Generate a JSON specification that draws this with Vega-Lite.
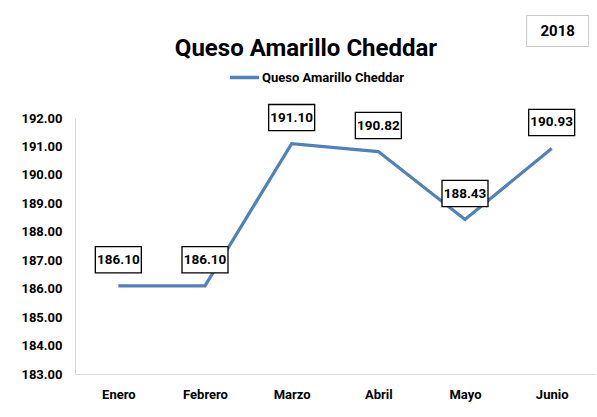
{
  "$schema": "https://vega.github.io/schema/vega-lite/v6.json",
  "width": 520,
  "height": 256,
  "autosize": "none",
  "padding": {"left": 75, "top": 118, "right": 2, "bottom": 43},
  "background": "white",
  "config": {
    "view": {"stroke": null},
    "font": "Roboto"
  },
  "title": {
    "text": "Queso Amarillo Cheddar",
    "fontSize": 24,
    "fontWeight": "bold",
    "font": "Roboto",
    "color": "black",
    "anchor": "middle",
    "frame": "group",
    "offset": 4,
    "dy": 51,
    "dx": -29
  },
  "datasets": {
    "precios": [
      {"mes": "Enero", "precio": 186.10, "serie": "Queso Amarillo Cheddar"},
      {"mes": "Febrero", "precio": 186.10, "serie": "Queso Amarillo Cheddar"},
      {"mes": "Marzo", "precio": 191.10, "serie": "Queso Amarillo Cheddar"},
      {"mes": "Abril", "precio": 190.82, "serie": "Queso Amarillo Cheddar"},
      {"mes": "Mayo", "precio": 188.43, "serie": "Queso Amarillo Cheddar"},
      {"mes": "Junio", "precio": 190.93, "serie": "Queso Amarillo Cheddar"}
    ],
    "anio": [
      {"mes": "Junio", "precio": 192, "anio": "2018"}
    ]
  },
  "data": {"name": "precios"},
  "encoding": {
    "x": {
      "field": "mes",
      "type": "ordinal",
      "sort": ["Enero", "Febrero", "Marzo", "Abril", "Mayo", "Junio"],
      "scale": {"type": "point", "padding": 0.5},
      "axis": {
        "title": null,
        "labelAngle": 0,
        "labelFontSize": 13,
        "labelFontWeight": "bold",
        "labelColor": "black",
        "labelPadding": 14,
        "ticks": false,
        "domainColor": "#d9d9d9",
        "grid": false
      }
    },
    "y": {
      "field": "precio",
      "type": "quantitative",
      "scale": {"domain": [183, 192], "zero": false},
      "axis": {
        "title": null,
        "values": [183, 184, 185, 186, 187, 188, 189, 190, 191, 192],
        "format": ".2f",
        "labelFontSize": 13,
        "labelFontWeight": "bold",
        "labelColor": "black",
        "labelPadding": 13,
        "ticks": false,
        "domainColor": "#d9d9d9",
        "grid": false
      }
    }
  },
  "layer": [
    {
      "mark": {"type": "line", "strokeWidth": 3.2},
      "encoding": {
        "color": {
          "field": "serie",
          "type": "nominal",
          "scale": {"range": ["#4f81bd"]},
          "legend": {
            "title": null,
            "orient": "none",
            "legendX": 153,
            "legendY": -57,
            "symbolType": "stroke",
            "symbolSize": 841,
            "symbolStrokeWidth": 3.5,
            "labelFontSize": 13,
            "labelFontWeight": "bold",
            "labelColor": "black",
            "labelOffset": 1,
            "labelLimit": 400
          }
        }
      }
    },
    {
      "mark": {
        "type": "point",
        "shape": "M-1,-0.57L1,-0.57L1,0.57L-1,0.57Z",
        "size": 2116,
        "filled": true,
        "fill": "white",
        "stroke": "black",
        "strokeWidth": 1.3,
        "opacity": 1,
        "yOffset": -26
      }
    },
    {
      "mark": {
        "type": "text",
        "fontSize": 13.5,
        "fontWeight": "bold",
        "color": "black",
        "dy": -26
      },
      "encoding": {"text": {"field": "precio", "type": "quantitative", "format": ".2f"}}
    },
    {
      "data": {"name": "anio"},
      "mark": {
        "type": "point",
        "shape": "M-1,-0.5L1,-0.5L1,0.5L-1,0.5Z",
        "size": 3844,
        "filled": true,
        "fill": "white",
        "stroke": "#c8c8c8",
        "strokeWidth": 1,
        "opacity": 1,
        "xOffset": 6,
        "yOffset": -87
      }
    },
    {
      "data": {"name": "anio"},
      "mark": {
        "type": "text",
        "fontSize": 15,
        "fontWeight": "bold",
        "color": "black",
        "dx": 6,
        "dy": -87
      },
      "encoding": {"text": {"field": "anio"}}
    }
  ]
}
